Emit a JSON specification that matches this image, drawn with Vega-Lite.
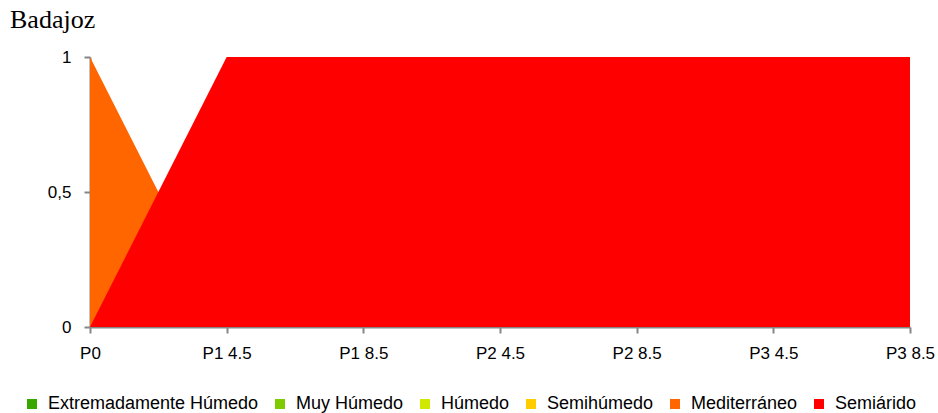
{
  "$schema": "https://vega.github.io/schema/vega-lite/v6.json",
  "width": 820,
  "height": 270,
  "autosize": "none",
  "padding": {"left": 90, "top": 57, "right": 28, "bottom": 86},
  "background": "white",
  "title": {
    "text": "Badajoz",
    "anchor": "start",
    "frame": "group",
    "dx": -80,
    "dy": 33,
    "offset": 27,
    "baseline": "alphabetic",
    "font": "Liberation Serif",
    "fontSize": 26,
    "fontWeight": "normal",
    "color": "black"
  },
  "config": {
    "view": {"stroke": null},
    "axis": {
      "labelFont": "Liberation Sans",
      "labelFontSize": 17,
      "labelColor": "black",
      "domainColor": "#868686",
      "tickColor": "#868686",
      "domainWidth": 2,
      "tickWidth": 2,
      "tickSize": 6,
      "grid": false,
      "title": null
    }
  },
  "data": {
    "values": [
      {"p": "P0", "serie": "Extremadamente Húmedo", "v": 0},
      {"p": "P1 4.5", "serie": "Extremadamente Húmedo", "v": 0},
      {"p": "P1 8.5", "serie": "Extremadamente Húmedo", "v": 0},
      {"p": "P2 4.5", "serie": "Extremadamente Húmedo", "v": 0},
      {"p": "P2 8.5", "serie": "Extremadamente Húmedo", "v": 0},
      {"p": "P3 4.5", "serie": "Extremadamente Húmedo", "v": 0},
      {"p": "P3 8.5", "serie": "Extremadamente Húmedo", "v": 0},
      {"p": "P0", "serie": "Muy Húmedo", "v": 0},
      {"p": "P1 4.5", "serie": "Muy Húmedo", "v": 0},
      {"p": "P1 8.5", "serie": "Muy Húmedo", "v": 0},
      {"p": "P2 4.5", "serie": "Muy Húmedo", "v": 0},
      {"p": "P2 8.5", "serie": "Muy Húmedo", "v": 0},
      {"p": "P3 4.5", "serie": "Muy Húmedo", "v": 0},
      {"p": "P3 8.5", "serie": "Muy Húmedo", "v": 0},
      {"p": "P0", "serie": "Húmedo", "v": 0},
      {"p": "P1 4.5", "serie": "Húmedo", "v": 0},
      {"p": "P1 8.5", "serie": "Húmedo", "v": 0},
      {"p": "P2 4.5", "serie": "Húmedo", "v": 0},
      {"p": "P2 8.5", "serie": "Húmedo", "v": 0},
      {"p": "P3 4.5", "serie": "Húmedo", "v": 0},
      {"p": "P3 8.5", "serie": "Húmedo", "v": 0},
      {"p": "P0", "serie": "Semihúmedo", "v": 0},
      {"p": "P1 4.5", "serie": "Semihúmedo", "v": 0},
      {"p": "P1 8.5", "serie": "Semihúmedo", "v": 0},
      {"p": "P2 4.5", "serie": "Semihúmedo", "v": 0},
      {"p": "P2 8.5", "serie": "Semihúmedo", "v": 0},
      {"p": "P3 4.5", "serie": "Semihúmedo", "v": 0},
      {"p": "P3 8.5", "serie": "Semihúmedo", "v": 0},
      {"p": "P0", "serie": "Mediterráneo", "v": 1},
      {"p": "P1 4.5", "serie": "Mediterráneo", "v": 0},
      {"p": "P1 8.5", "serie": "Mediterráneo", "v": 0},
      {"p": "P2 4.5", "serie": "Mediterráneo", "v": 0},
      {"p": "P2 8.5", "serie": "Mediterráneo", "v": 0},
      {"p": "P3 4.5", "serie": "Mediterráneo", "v": 0},
      {"p": "P3 8.5", "serie": "Mediterráneo", "v": 0},
      {"p": "P0", "serie": "Semiárido", "v": 0},
      {"p": "P1 4.5", "serie": "Semiárido", "v": 1},
      {"p": "P1 8.5", "serie": "Semiárido", "v": 1},
      {"p": "P2 4.5", "serie": "Semiárido", "v": 1},
      {"p": "P2 8.5", "serie": "Semiárido", "v": 1},
      {"p": "P3 4.5", "serie": "Semiárido", "v": 1},
      {"p": "P3 8.5", "serie": "Semiárido", "v": 1}
    ]
  },
  "mark": {"type": "area", "opacity": 1},
  "encoding": {
    "x": {
      "field": "p",
      "type": "ordinal",
      "sort": null,
      "scale": {"type": "point", "padding": 0},
      "axis": {"labelAngle": 0, "labelPadding": 12}
    },
    "y": {
      "field": "v",
      "type": "quantitative",
      "stack": null,
      "scale": {"domain": [0, 1], "nice": false},
      "axis": {
        "values": [0, 0.5, 1],
        "labelPadding": 13,
        "labelExpr": "replace(format(datum.value, '~g'), '.', ',')"
      }
    },
    "color": {
      "field": "serie",
      "type": "nominal",
      "sort": null,
      "scale": {
        "domain": ["Extremadamente Húmedo", "Muy Húmedo", "Húmedo", "Semihúmedo", "Mediterráneo", "Semiárido"],
        "range": ["#38A800", "#7DCB00", "#D1E800", "#FFCC00", "#FF6600", "#FF0000"]
      },
      "legend": {
        "title": null,
        "orient": "none",
        "direction": "horizontal",
        "columns": 6,
        "legendX": -67,
        "legendY": 338,
        "symbolType": "square",
        "symbolSize": 100,
        "symbolStrokeWidth": 0,
        "symbolOpacity": 1,
        "labelFont": "Liberation Sans",
        "labelFontSize": 18,
        "labelColor": "black",
        "labelOffset": 7,
        "labelLimit": 400,
        "columnPadding": 12
      }
    }
  }
}
